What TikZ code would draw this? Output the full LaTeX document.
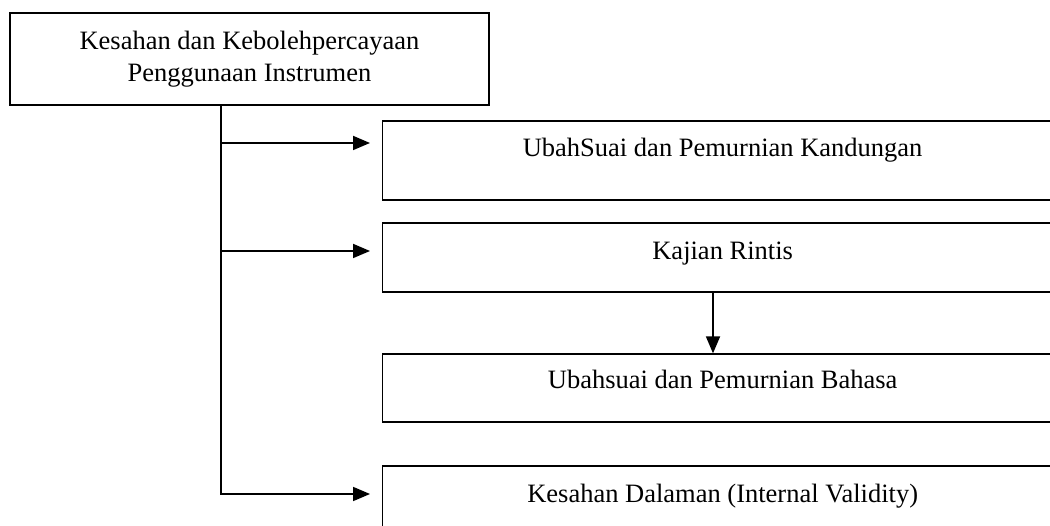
\documentclass[tikz,border=0pt]{standalone}
\usepackage{fontspec}
\setmainfont{Liberation Serif}
\usetikzlibrary{arrows.meta}
\tikzset{
  kotak/.style={draw, line width=1.3pt, inner xsep=0pt, inner ysep=0pt,
    minimum width=680pt, anchor=base west,
    font=\fontsize{26.5}{32}\selectfont},
  garis/.style={line width=1.8pt},
  panah/.style={garis, -{Triangle[length=17pt,width=14pt]}}
}
\begin{document}
\begin{tikzpicture}[x=1pt,y=-1pt]
      \useasboundingbox (0,0) rectangle (1050,526);
      \node[draw, line width=1.3pt, minimum width=479pt, minimum height=92pt,
        align=center, font=\fontsize{26.5}{32}\selectfont] (utama)
        at (249.5,59) {Kesahan dan Kebolehpercayaan\\Penggunaan Instrumen};
      \node[kotak, text height=36pt, text depth=43pt] (kandungan)
        at (382,157) {UbahSuai dan Pemurnian Kandungan};
      \node[kotak, text height=37pt, text depth=32pt] (rintis)
        at (382,260) {Kajian Rintis};
      \node[kotak, text height=35pt, text depth=33pt] (bahasa)
        at (382,389) {Ubahsuai dan Pemurnian Bahasa};
      \node[kotak, text height=37pt, text depth=45pt] (dalaman)
        at (382,503) {Kesahan Dalaman (Internal Validity)};
      \coordinate (b1) at (221,143);
      \coordinate (b2) at (221,251);
      \coordinate (b3) at (221,494);
      \coordinate (turun) at (713,0);
      \begin{scope}[shorten >=12pt]
        \draw[panah] (utama.south -| b1) -- (b3) -- (b3 -| dalaman.west);
        \draw[panah] (b1) -- (b1 -| kandungan.west);
        \draw[panah] (b2) -- (b2 -| rintis.west);
      \end{scope}
      \draw[panah] (turun |- rintis.south) -- (turun |- bahasa.north);
    \end{tikzpicture}
\end{document}
